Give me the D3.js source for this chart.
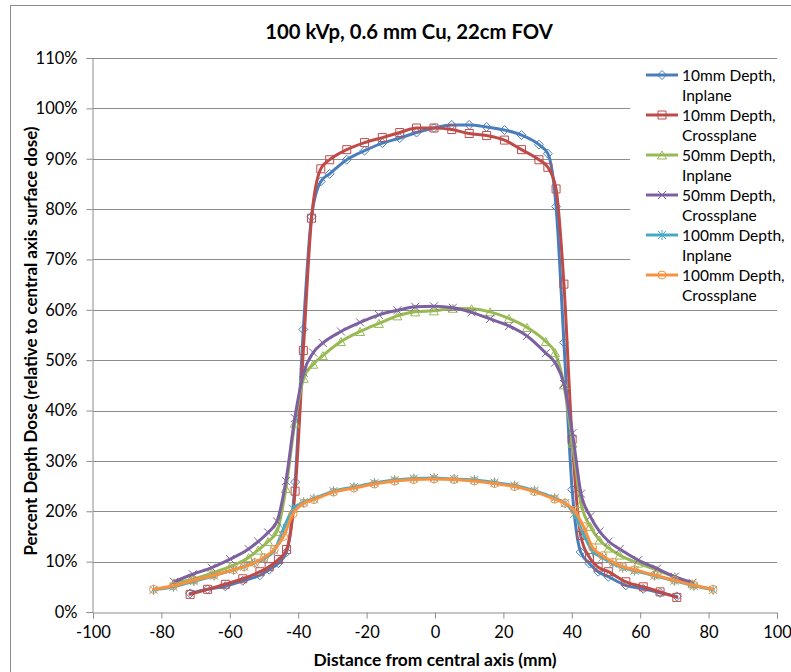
<!DOCTYPE html>
<html>
<head>
<meta charset="utf-8">
<script src="https://cdn.jsdelivr.net/npm/d3@7"></script>
<style>
  html, body { margin: 0; padding: 0; background: #fff; }
  svg { display: block; font-family: Lato, "Open Sans", sans-serif; }
</style>
</head>
<body>
<svg id="chart" width="791" height="672"></svg>
<script>
// Beam profile positions (mm) for each measurement depth
const xDepth10 = [-71.6,-66.5,-61.3,-56.2,-51.2,-48.5,-45.8,-43.4,-40.9,-38.5,-36.1,-33.4,-30.8,-25.8,-20.6,-15.4,-10.3,-5.4,-0.3,4.9,10.0,15.1,20.3,25.3,30.4,33.0,35.4,37.7,40.1,42.6,45.2,47.7,50.7,55.8,60.9,65.8,70.7];
const xDepth50 = [-76.3,-70.8,-65.3,-59.9,-54.5,-51.7,-48.8,-46.2,-43.6,-41.0,-38.4,-35.6,-32.8,-27.5,-21.9,-16.4,-11.0,-5.8,-0.3,5.2,10.7,16.1,21.6,26.9,32.4,35.1,37.7,40.2,42.7,45.4,48.1,50.8,54.0,59.4,64.9,70.1,75.3];
const xDepth100 = [-82.3,-76.5,-70.5,-64.6,-58.9,-55.8,-52.7,-49.9,-47.0,-44.3,-41.5,-38.4,-35.4,-29.7,-23.7,-17.7,-11.8,-6.2,-0.3,5.6,11.5,17.4,23.3,29.1,35.0,38.0,40.7,43.4,46.1,49.0,52.0,54.9,58.3,64.2,70.0,75.7,81.3];

// Percent depth dose values (%)
const pdd10Inplane = [3.7,4.5,5.1,6.2,7.3,8.4,9.7,11.9,25.8,56.1,78.5,85.5,87.0,89.8,91.6,93.1,94.1,95.2,96.1,96.7,96.7,96.3,95.7,94.7,92.8,91.0,80.5,53.5,24.3,11.9,9.6,8.0,7.0,5.3,4.6,3.8,3.1];
const pdd10Crossplane = [3.5,4.5,5.5,6.6,8.0,9.0,10.4,12.4,24.0,51.9,78.2,88.0,89.8,91.8,93.2,94.2,95.2,96.1,96.1,95.8,95.0,94.6,93.7,91.8,89.8,88.3,84.0,65.1,34.3,15.2,10.8,8.9,8.0,6.0,5.0,4.0,2.9];
const pdd50Inplane = [5.8,6.5,7.7,9.0,10.8,12.3,14.0,16.0,24.5,37.5,46.4,49.2,50.9,53.7,55.7,57.3,58.8,59.6,59.8,60.3,60.2,59.6,58.3,56.5,53.7,51.5,45.1,33.5,21.5,17.0,14.3,12.7,11.3,9.7,8.3,7.0,5.6];
const pdd50Crossplane = [6.0,7.5,8.8,10.5,12.5,14.0,15.8,18.0,26.0,38.5,47.5,51.5,53.4,55.7,57.5,59.0,59.9,60.6,60.7,60.4,59.5,58.2,56.8,54.8,51.4,49.5,45.3,35.5,23.5,19.0,16.0,14.0,12.5,10.3,8.6,7.0,5.8];
const pdd100Inplane = [4.4,5.0,6.1,7.2,8.4,9.0,9.8,10.6,12.2,16.5,20.5,21.8,22.5,24.0,24.8,25.6,26.2,26.5,26.6,26.4,26.2,25.7,25.1,24.1,22.6,21.6,19.5,15.5,12.0,10.8,9.6,8.8,8.2,7.2,6.2,5.2,4.4];
const pdd100Crossplane = [4.5,5.2,6.3,7.3,8.4,9.0,9.8,10.8,12.4,15.0,19.5,21.6,22.3,23.8,24.6,25.4,26.0,26.3,26.4,26.3,26.0,25.5,24.9,23.9,22.4,21.6,20.2,17.0,12.8,11.2,9.9,9.0,8.4,7.3,6.3,5.3,4.5];

const seriesNames = ["10mm Depth, Inplane","10mm Depth, Crossplane","50mm Depth, Inplane","50mm Depth, Crossplane","100mm Depth, Inplane","100mm Depth, Crossplane"];
const seriesColors = ["#4A7EBB","#BE4B48","#98B954","#7D60A0","#46AAC5","#F69240"];
const seriesMarkers = ["diamond","square","triangle","x","star","circle"];
const seriesX = [xDepth10, xDepth10, xDepth50, xDepth50, xDepth100, xDepth100];
const seriesY = [pdd10Inplane, pdd10Crossplane, pdd50Inplane, pdd50Crossplane, pdd100Inplane, pdd100Crossplane];

const xTicks = [-100,-80,-60,-40,-20,0,20,40,60,80,100];
const yTicks = [0,10,20,30,40,50,60,70,80,90,100,110];

const svg = d3.select("#chart");
const x = d3.scaleLinear().domain([-100, 100]).range([93, 777]);
const y = d3.scaleLinear().domain([0, 110]).range([612, 58]);

// outer chart frame
svg.append("rect").attr("x", 10.5).attr("y", 5.5).attr("width", 800).attr("height", 700)
  .attr("fill", "#fff").attr("stroke", "#8c8c8c").attr("stroke-width", 1);

// horizontal gridlines
svg.append("g").selectAll("line").data(yTicks.filter(d => d > 0)).join("line")
  .attr("x1", x(-100)).attr("x2", x(100))
  .attr("y1", d => Math.round(y(d)) + 0.5).attr("y2", d => Math.round(y(d)) + 0.5)
  .attr("stroke", "#8c8c8c").attr("stroke-width", 1);

// y axis
const yAxis = svg.append("g").attr("transform", `translate(${Math.round(x(-100)) - 0.5},0)`)
  .call(d3.axisLeft(y).tickValues(yTicks).tickFormat(d => d + "%").tickSize(6).tickPadding(9));
// x axis
const xAxis = svg.append("g").attr("transform", `translate(0,${Math.round(y(0)) + 0.5})`)
  .call(d3.axisBottom(x).tickValues(xTicks).tickFormat(d3.format("d")).tickSize(6).tickPadding(8));
[yAxis, xAxis].forEach(a => {
  a.select(".domain").attr("stroke", "#8c8c8c");
  a.selectAll(".tick line").attr("stroke", "#8c8c8c");
  a.selectAll(".tick text").attr("fill", "#000").style("font-size", "16.5px")
    .style("font-family", 'Lato, sans-serif');
});
xAxis.selectAll(".tick text").text(d => d < 0 ? "-" + Math.abs(d) : d);

function markerPath(type) {
  const s = 4;
  switch (type) {
    case "diamond": return `M0,${-s-0.5}L${s+0.5},0L0,${s+0.5}L${-s-0.5},0Z`;
    case "square": return `M${-s},${-s}H${s}V${s}H${-s}Z`;
    case "triangle": return `M0,${-s}L${s+0.5},${s}L${-s-0.5},${s}Z`;
    case "x": return `M${-s},${-s}L${s},${s}M${-s},${s}L${s},${-s}`;
    case "star": return `M${-s},${-s}L${s},${s}M${-s},${s}L${s},${-s}M0,${-s-1}L0,${s+1}`;
    case "circle": return `M${s},0A${s},${s} 0 1,1 ${-s},0A${s},${s} 0 1,1 ${s},0Z`;
  }
}

const line = d3.line().x(d => x(d[0])).y(d => y(d[1])).curve(d3.curveMonotoneX);

seriesNames.forEach((name, i) => {
  const pts = seriesX[i].map((v, k) => [v, seriesY[i][k]]);
  const g = svg.append("g");
  g.append("path").datum(pts).attr("d", line)
    .attr("fill", "none").attr("stroke", seriesColors[i]).attr("stroke-width", 3)
    .attr("stroke-linejoin", "round").attr("stroke-linecap", "round");
  g.selectAll("path.m").data(pts).join("path").attr("class", "m")
    .attr("transform", d => `translate(${x(d[0])},${y(d[1])})`)
    .attr("d", markerPath(seriesMarkers[i]))
    .attr("fill", "none").attr("stroke", seriesColors[i]).attr("stroke-width", 1);
});

// legend
const lg = svg.append("g");
lg.append("rect").attr("x", 630).attr("y", 63).attr("width", 150).attr("height", 238).attr("fill", "#fff");
seriesNames.forEach((name, i) => {
  const cy = 75 + i * 40;
  lg.append("line").attr("x1", 646).attr("x2", 678).attr("y1", cy).attr("y2", cy)
    .attr("stroke", seriesColors[i]).attr("stroke-width", 3);
  lg.append("path").attr("transform", `translate(662,${cy})`).attr("d", markerPath(seriesMarkers[i]))
    .attr("fill", "none").attr("stroke", seriesColors[i]).attr("stroke-width", 1);
  const parts = name.split(", ");
  const t = lg.append("text").attr("x", 682).attr("y", cy + 5.5).style("font-size", "15.5px");
  t.append("tspan").attr("x", 682).text(parts[0] + ",");
  t.append("tspan").attr("x", 682).attr("dy", 20.5).text(parts[1]);
});

// titles
svg.append("text").attr("x", 409).attr("y", 39).attr("text-anchor", "middle")
  .style("font-size", "20.3px").style("font-weight", "bold").text("100 kVp, 0.6 mm Cu, 22cm FOV");
svg.append("text").attr("x", 435).attr("y", 666).attr("text-anchor", "middle")
  .style("font-size", "17.4px").style("font-weight", "bold").text("Distance from central axis (mm)");
svg.append("text").attr("transform", "translate(37,341) rotate(-90)").attr("text-anchor", "middle")
  .style("font-size", "16.9px").style("font-weight", "bold")
  .text("Percent Depth Dose (relative to central axis surface dose)");
</script>
</body>
</html>
